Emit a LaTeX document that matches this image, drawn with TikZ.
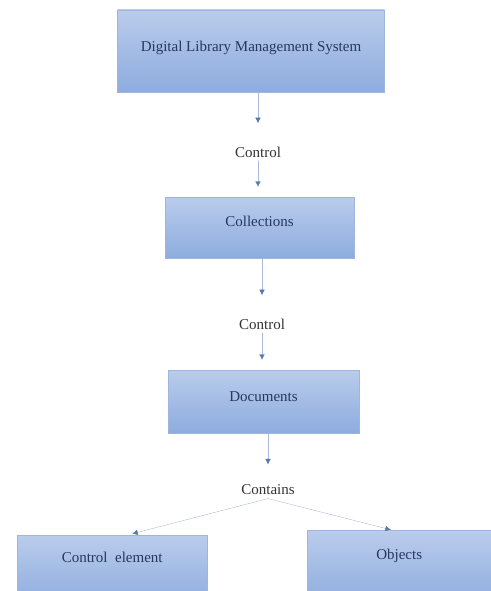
\documentclass[tikz,border=0pt]{standalone}
\usepackage{fontspec}
\setmainfont{Liberation Serif}
\usepackage{tikz}
\usetikzlibrary{calc}
\usetikzlibrary{arrows.meta}
\tikzset{>=latex}
\usepackage{xcolor}
\definecolor{boxtop}{RGB}{186,204,236}
\definecolor{boxbot}{RGB}{141,172,222}
\definecolor{boxline}{RGB}{158,182,222}
\definecolor{boxtext}{RGB}{40,55,92}
\definecolor{linkcol}{RGB}{168,188,218}
\definecolor{tipcol}{RGB}{90,120,170}
\tikzstyle{block}=[draw=boxline,top color=boxtop,bottom color=boxbot,text=boxtext,
  font=\fontsize{15}{18}\selectfont,text height=10pt,text depth=12pt]
\tikzstyle{rel}=[fill=white,text=black!80,font=\fontsize{15}{18}\selectfont]
\tikzstyle{link}=[thin,linkcol,-{Latex[length=5.5pt,width=5.5pt,color=tipcol]}]

\begin{document}
\begin{tikzpicture}[x=1pt,y=-1pt,line cap=round]
  \useasboundingbox (0,0) rectangle (490,591);

  \node[block,minimum width=267pt,minimum height=82pt,text depth=9pt] (dlms) at (251,51) {Digital Library Management System};
  \node[rel] (ctrlA) at (258,152) {Control};
  \node[block,minimum width=189pt,minimum height=61pt] (coll) at (259.5,227.5) {Collections};
  \node[rel] (ctrlB) at (262,324) {Control};
  \node[block,minimum width=191pt,minimum height=63pt,text depth=10pt] (docs) at (263.5,401.5) {Documents};
  \node[rel] (cont) at (268,490) {Contains};
  % the two bottom boxes run off the lower edge
  \node[block,anchor=north west,minimum width=190pt,minimum height=70pt,text depth=25pt] (elem) at (17,535) {Control\ \ element};
  \node[block,anchor=north west,minimum width=184pt,minimum height=75pt,text depth=26pt] (objs) at (307,530) {Objects};

  \draw[link,shorten >=20pt] (dlms.south -| ctrlA) -- (ctrlA);
  \draw[link,shorten >=10pt] (ctrlA.south) -- (coll.north -| ctrlA);
  \draw[link,shorten >=20pt] (coll.south -| ctrlB) -- (ctrlB);
  \draw[link,shorten >=10pt] (ctrlB.south) -- (docs.north -| ctrlB);
  \draw[link,shorten >=17pt] (docs.south -| cont) -- (cont);
  \draw[link,shorten >=5pt] (cont.south) -- ($(elem.north west)!0.58!(elem.north east)$);
  \draw[link,shorten >=1pt] (cont.south) -- ($(objs.north west)!0.46!(objs.north east)$);
\end{tikzpicture}
\end{document}
